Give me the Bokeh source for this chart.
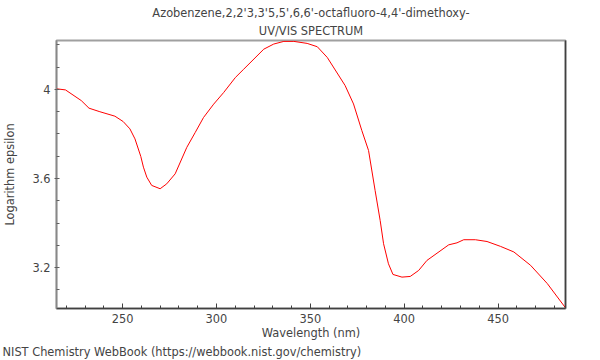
from bokeh.plotting import figure
from bokeh.models import Title, Range1d, FixedTicker, LinearAxis, CustomJSTickFormatter
from bokeh.embed import file_html
from bokeh.resources import INLINE

title_line1 = "Azobenzene,2,2'3,3'5,5',6,6'-octafluoro-4,4'-dimethoxy-"
title_line2 = "UV/VIS SPECTRUM"
x_label = "Wavelength (nm)"
y_label = "Logarithm epsilon"
footer = "NIST Chemistry WebBook (https://webbook.nist.gov/chemistry)"

wavelength = [214.8, 219.6, 228.0, 232.1, 237.9, 245.9, 250.3, 253.9, 256.6, 259.7,
              261.1, 262.9, 265.5, 270.0, 273.5, 278.0, 284.2, 288.7, 293.1, 298.5,
              303.8, 310.1, 314.5, 325.2, 330.5, 335.9, 341.2, 348.3, 353.7, 359.0,
              368.5, 373.0, 377.4, 381.0, 384.5, 387.2, 389.0, 391.6, 394.0, 398.8,
              403.2, 407.7, 412.1, 423.7, 428.1, 431.7, 437.9, 444.1, 451.3, 458.4,
              467.3, 476.2, 485.9]
log_eps = [4.003, 3.998, 3.950, 3.916, 3.900, 3.880, 3.856, 3.823, 3.778, 3.699,
           3.651, 3.606, 3.569, 3.554, 3.576, 3.621, 3.740, 3.807, 3.874, 3.934,
           3.986, 4.054, 4.091, 4.181, 4.204, 4.216, 4.216, 4.207, 4.192, 4.144,
           4.018, 3.935, 3.816, 3.726, 3.546, 3.411, 3.307, 3.217, 3.169, 3.157,
           3.160, 3.187, 3.232, 3.302, 3.311, 3.325, 3.325, 3.317, 3.295, 3.270,
           3.210, 3.128, 3.019]

x_major = [250, 300, 350, 400, 450]
x_minor = list(range(220, 490, 10))
y_major = [3.2, 3.6, 4.0]
y_minor = [3.1, 3.2, 3.3, 3.4, 3.5, 3.6, 3.7, 3.8, 3.9, 4.0, 4.1, 4.2]

FONT = "DejaVu Sans"
FS = "11.4px"

p = figure(width=584, height=360, output_backend="svg", toolbar_location=None,
           title=None, x_range=Range1d(214.8, 485.9), y_range=Range1d(3.016, 4.22),
           min_border_left=49, min_border_right=19, min_border_top=40, min_border_bottom=52)

p.line(wavelength, log_eps, line_color="#ff0000", line_width=1)

p.grid.visible = False
p.background_fill_color = "white"
p.border_fill_color = "white"
p.outline_line_color = "#a0a0a0"
p.outline_line_width = 2

# x axis
xa = p.xaxis[0]
xa.ticker = FixedTicker(ticks=x_major, minor_ticks=x_minor)
xa.axis_label = x_label
xa.axis_label_text_font = FONT
xa.axis_label_text_font_size = FS
xa.axis_label_text_font_style = "normal"
xa.axis_label_standoff = 0
xa.major_label_text_font = FONT
xa.major_label_text_font_size = FS
xa.major_label_standoff = 5
xa.axis_line_color = "#404040"
xa.axis_line_width = 1.5
xa.major_tick_in = 5
xa.major_tick_out = 0
xa.minor_tick_in = 3
xa.minor_tick_out = 0
xa.major_tick_line_color = "#404040"
xa.minor_tick_line_color = "#404040"

# y axis
ya = p.yaxis[0]
ya.ticker = FixedTicker(ticks=y_major, minor_ticks=y_minor)
ya.formatter = CustomJSTickFormatter(code="return String(Math.round(tick*10)/10)")
ya.axis_label = y_label
ya.axis_label_text_font = FONT
ya.axis_label_text_font_size = FS
ya.axis_label_text_font_style = "normal"
ya.axis_label_standoff = 12
ya.major_label_text_font = FONT
ya.major_label_text_font_size = FS
ya.major_label_standoff = 4
ya.axis_line_color = "#888888"
ya.axis_line_width = 1.5
ya.major_tick_in = 2
ya.major_tick_out = 2
ya.minor_tick_in = 3
ya.minor_tick_out = 0
ya.major_tick_line_color = "#606060"
ya.minor_tick_line_color = "#606060"

# right border
ra = LinearAxis(ticker=FixedTicker(ticks=[]), axis_line_color="#404040", axis_line_width=1.5,
                major_tick_line_color=None, minor_tick_line_color=None)
p.add_layout(ra, "right")

# titles
t2 = Title(text=title_line2, align="center", text_font=FONT, text_font_size=FS,
           text_font_style="normal", standoff=5)
t1 = Title(text=title_line1, align="center", text_font=FONT, text_font_size=FS,
           text_font_style="normal", standoff=0)
p.add_layout(t2, "above")
p.add_layout(t1, "above")

ft = Title(text=footer, align="left", text_font=FONT, text_font_size=FS,
           text_font_style="normal", standoff=1, offset=-54)
p.add_layout(ft, "below")

open("out.html", "w").write(file_html(p, INLINE))
